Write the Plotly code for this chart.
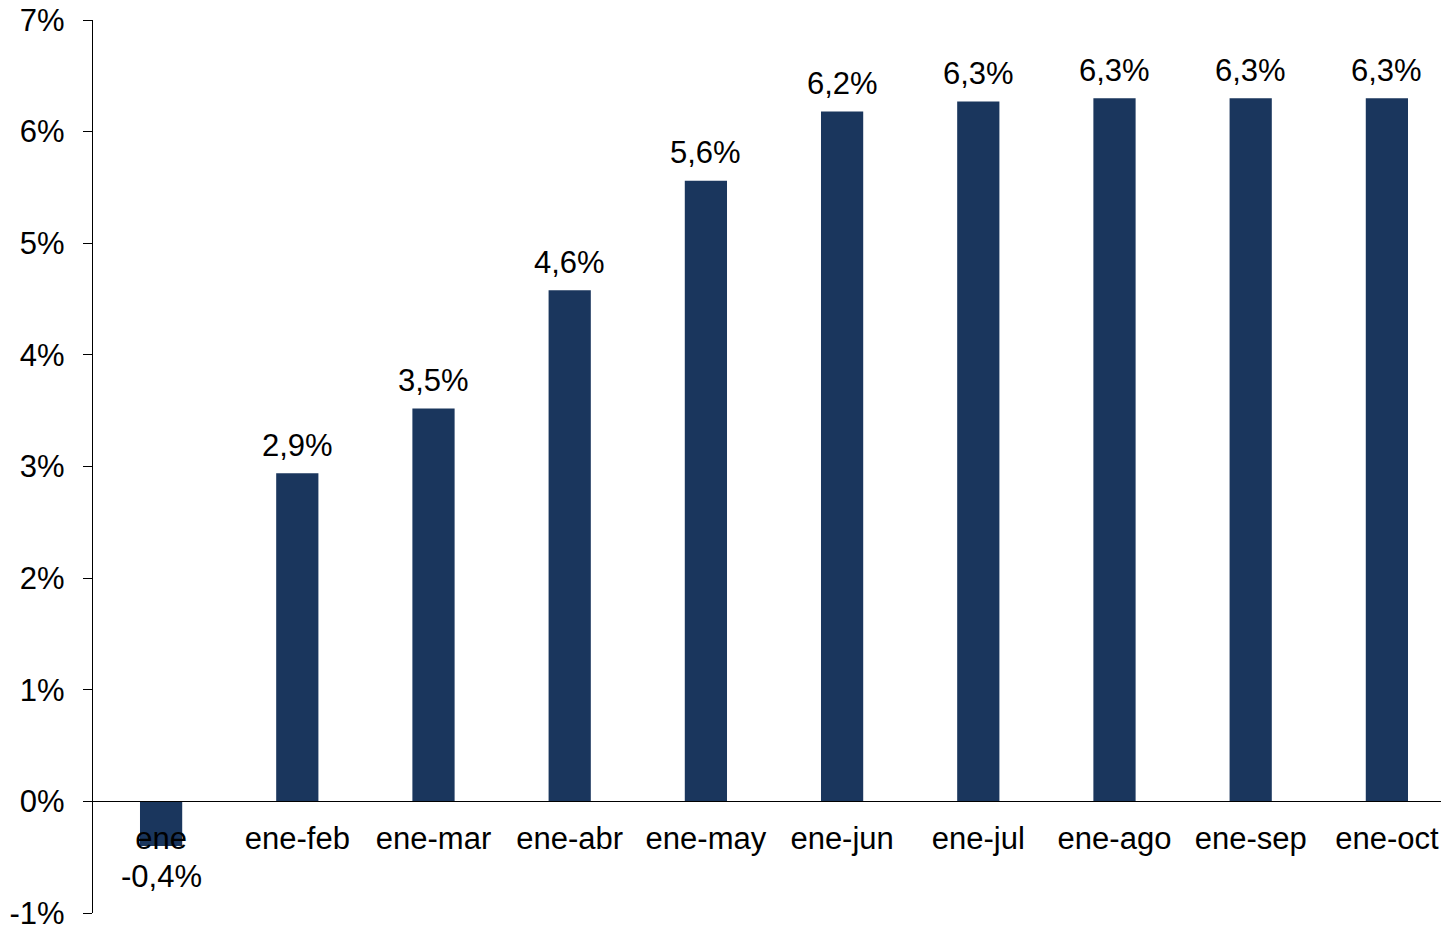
import plotly.graph_objects as go

categories = ["ene", "ene-feb", "ene-mar", "ene-abr", "ene-may", "ene-jun",
              "ene-jul", "ene-ago", "ene-sep", "ene-oct"]
values = [-0.40, 2.94, 3.52, 4.58, 5.56, 6.18, 6.27, 6.30, 6.30, 6.30]
y_tick_vals = [-1, 0, 1, 2, 3, 4, 5, 6, 7]
y_tick_text = ["-1%", "0%", "1%", "2%", "3%", "4%", "5%", "6%", "7%"]

labels = [f"{v:.1f}".replace(".", ",") + "%" for v in values]

FONT = "Liberation Sans, Arial, sans-serif"
FS = 31

fig = go.Figure(go.Bar(
    x=categories,
    y=values,
    marker=dict(color="#1a365d", line=dict(width=0)),
    cliponaxis=False,
    hoverinfo="x+y",
))

for c, v, t in zip(categories, values, labels):
    fig.add_annotation(
        x=c, y=v, text=t, showarrow=False,
        xanchor="center", yanchor="middle",
        yshift=28 if v >= 0 else -30,
        font=dict(family=FONT, size=FS, color="#000000"),
    )

fig.update_layout(
    width=1441, height=918,
    margin=dict(l=85, r=0, t=12, b=13),
    paper_bgcolor="white", plot_bgcolor="white",
    bargap=0.69,
    showlegend=False,
    font=dict(family=FONT, size=FS, color="#000000"),
)

fig.update_xaxes(
    type="category",
    range=[-0.5, 9.456],
    anchor="free", position=0.125,
    showline=True, linecolor="#000000", linewidth=1.3,
    ticks="", showgrid=False, zeroline=False,
    tickfont=dict(family=FONT, size=FS, color="#000000"),
    ticklabelstandoff=9,
    ticklabeloverflow="allow",
)

fig.update_yaxes(
    range=[-1, 7],
    tickvals=y_tick_vals, ticktext=y_tick_text,
    showline=True, linecolor="#000000", linewidth=1.3,
    ticks="outside", ticklen=9, tickwidth=1.3, tickcolor="#000000",
    showgrid=False, zeroline=False,
    tickfont=dict(family=FONT, size=FS, color="#000000"),
    ticklabelstandoff=12,
    ticklabeloverflow="allow",
    automargin=False,
)

fig.write_html("out.html")
